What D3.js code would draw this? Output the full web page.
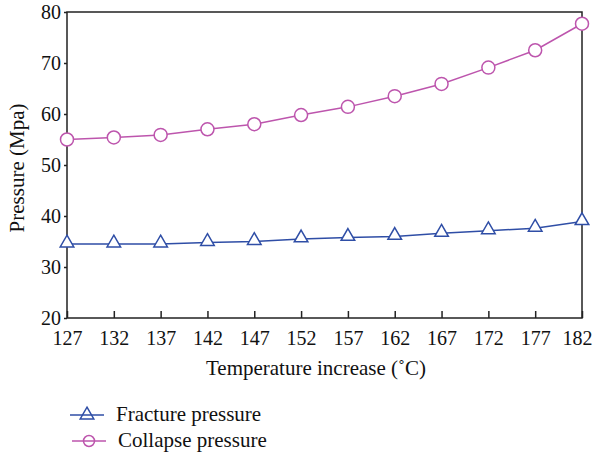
<!DOCTYPE html>
<html><head><meta charset="utf-8">
<script src="https://cdn.jsdelivr.net/npm/d3@7"></script>
<style>body{margin:0;background:#fff}svg{display:block}text{font-family:"Liberation Serif","DejaVu Serif",serif;fill:#111}</style>
</head><body><svg id="c" width="593" height="458"></svg>
<script>
const temperatures = [127,132,137,142,147,152,157,162,167,172,177,182];
const fracturePressure = [34.5,34.5,34.5,34.8,35.0,35.5,35.8,36.0,36.6,37.1,37.6,38.9];
const collapsePressure = [55.0,55.4,55.9,57.0,58.0,59.8,61.4,63.5,65.9,69.1,72.5,77.7];
const yTicks = [20,30,40,50,60,70,80];
const seriesNames = ["Fracture pressure","Collapse pressure"];
const colors = ["#2f4ea6","#bd55ad"];

const svg = d3.select("#c");
const m = {l:67,r:582,t:12,b:318};
const x = d3.scaleLinear().domain([127,182]).range([m.l,m.r]);
const y = d3.scaleLinear().domain([20,80]).range([m.b,m.t]);

svg.append("rect").attr("x",m.l).attr("y",m.t).attr("width",m.r-m.l).attr("height",m.b-m.t)
  .attr("fill","none").attr("stroke","#222").attr("stroke-width",1.5);

const xa = svg.append("g").attr("transform",`translate(0,${m.b})`)
  .call(d3.axisBottom(x).tickValues(temperatures).tickSize(-7).tickPadding(13).tickFormat(d3.format("d")));
xa.select(".domain").remove();
xa.selectAll("line").attr("stroke","#222").attr("stroke-width",1.5);
xa.selectAll("text").attr("font-size",20).attr("fill","#111")
  .attr("dx",(d,i)=> i===temperatures.length-1 ? -5 : 0);

const ya = svg.append("g").attr("transform",`translate(${m.l},0)`)
  .call(d3.axisLeft(y).tickValues(yTicks).tickSize(3).tickPadding(3));
ya.select(".domain").remove();
ya.selectAll("line").attr("stroke","#222").attr("stroke-width",1.5);
ya.selectAll("text").attr("font-size",20).attr("fill","#111");

svg.append("text").attr("x",316).attr("y",375).attr("text-anchor","middle").attr("font-size",21)
  .text("Temperature increase (˚C)");
svg.append("text").attr("transform","translate(24,168) rotate(-90)").attr("text-anchor","middle").attr("font-size",21)
  .text("Pressure (Mpa)");

const line = d3.line().x((d,i)=>x(temperatures[i])).y(d=>y(d));
const tri = d3.symbol().type(d3.symbolTriangle).size(80);

function drawSeries(vals, color, kind){
  svg.append("path").datum(vals).attr("d",line).attr("fill","none").attr("stroke",color).attr("stroke-width",1.5);
  const g = svg.append("g");
  if(kind==="tri"){
    g.selectAll("path").data(vals).join("path").attr("d",tri)
      .attr("transform",(d,i)=>`translate(${x(temperatures[i])},${y(d)-1})`)
      .attr("fill","#fff").attr("stroke",color).attr("stroke-width",1.5);
  } else {
    g.selectAll("circle").data(vals).join("circle").attr("cx",(d,i)=>x(temperatures[i])).attr("cy",d=>y(d))
      .attr("r",6.5).attr("fill","#fff").attr("stroke",color).attr("stroke-width",1.5);
  }
}
drawSeries(fracturePressure, colors[0], "tri");
drawSeries(collapsePressure, colors[1], "circ");

const leg = [{n:seriesNames[0],c:colors[0],k:"tri",y:415,x0:70,x1:104,tx:116},
             {n:seriesNames[1],c:colors[1],k:"circ",y:441,x0:72,x1:106,tx:118}];
leg.forEach(L=>{
  svg.append("line").attr("x1",L.x0).attr("x2",L.x1).attr("y1",L.y).attr("y2",L.y).attr("stroke",L.c).attr("stroke-width",1.5);
  const cx=(L.x0+L.x1)/2;
  if(L.k==="tri") svg.append("path").attr("d",tri).attr("transform",`translate(${cx},${L.y})`).attr("fill","none").attr("stroke",L.c).attr("stroke-width",1.5);
  else svg.append("circle").attr("cx",cx).attr("cy",L.y).attr("r",5.5).attr("fill","none").attr("stroke",L.c).attr("stroke-width",1.5);
  svg.append("text").attr("x",L.tx).attr("y",L.y+6).attr("font-size",21).text(L.n);
});
</script></body></html>
